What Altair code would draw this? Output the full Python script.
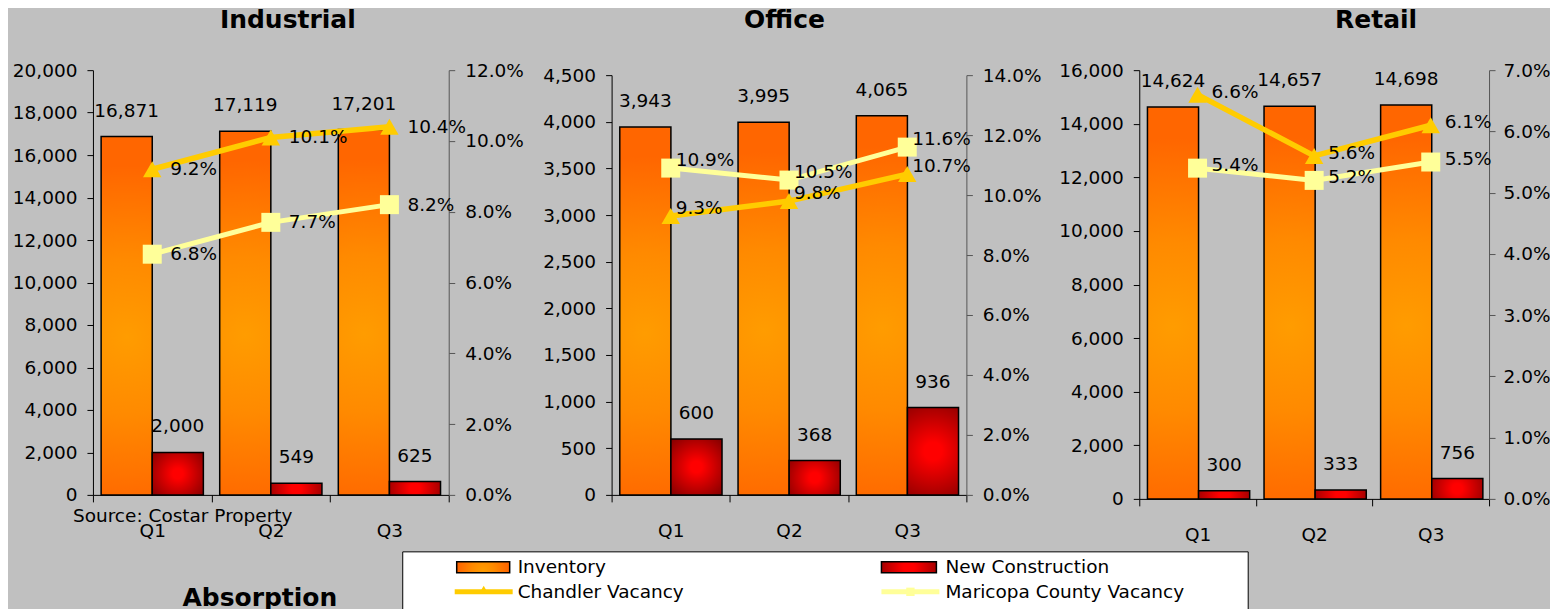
import altair as alt
import pandas as pd

# ---------------- data ----------------
quarters = ["Q1", "Q2", "Q3"]
panels = ["Industrial", "Office", "Retail"]
bar_series = ["Inventory", "New Construction"]
line_series = ["Chandler Vacancy", "Maricopa County Vacancy"]

industrial_inventory = [16871, 17119, 17201]
industrial_new_construction = [2000, 549, 625]
industrial_chandler_vacancy = [0.092, 0.101, 0.104]
industrial_maricopa_vacancy = [0.068, 0.077, 0.082]

office_inventory = [3943, 3995, 4065]
office_new_construction = [600, 368, 936]
office_chandler_vacancy = [0.093, 0.098, 0.107]
office_maricopa_vacancy = [0.109, 0.105, 0.116]

retail_inventory = [14624, 14657, 14698]
retail_new_construction = [300, 333, 756]
retail_chandler_vacancy = [0.066, 0.056, 0.061]
retail_maricopa_vacancy = [0.054, 0.052, 0.055]

industrial_left_ticks = [0, 2000, 4000, 6000, 8000, 10000, 12000, 14000, 16000, 18000, 20000]
industrial_right_ticks = [0, 0.02, 0.04, 0.06, 0.08, 0.10, 0.12]
office_left_ticks = [0, 500, 1000, 1500, 2000, 2500, 3000, 3500, 4000, 4500]
office_right_ticks = [0, 0.02, 0.04, 0.06, 0.08, 0.10, 0.12, 0.14]
retail_left_ticks = [0, 2000, 4000, 6000, 8000, 10000, 12000, 14000, 16000]
retail_right_ticks = [0, 0.01, 0.02, 0.03, 0.04, 0.05, 0.06, 0.07]

source_note = "Source: Costar Property"
section_title = "Absorption"

# ---------------- styles ----------------
FONT = "DejaVu Sans"
FS = 18.5
BG = "#c0c0c0"
CHANDLER = "#ffcc00"
MARICOPA = "#ffff99"

inv_fill = alt.RadialGradient(
    gradient="radial",
    stops=[alt.GradientStop(color="#ff9c00", offset=0),
           alt.GradientStop(color="#ff8a00", offset=0.45),
           alt.GradientStop(color="#ff6600", offset=1)],
    x1=0.5, y1=0.56, x2=0.5, y2=0.56, r1=0, r2=0.48,
)
nc_fill = alt.RadialGradient(
    gradient="radial",
    stops=[alt.GradientStop(color="#ff0000", offset=0),
           alt.GradientStop(color="#ff0000", offset=0.15),
           alt.GradientStop(color="#800000", offset=1)],
    x1=0.5, y1=0.5, x2=0.5, y2=0.5, r1=0, r2=0.68,
)

one = pd.DataFrame({"k": [0]})


def text_layer(txt, x, y, size=FS, weight="normal", align="left", baseline="middle"):
    return alt.Chart(pd.DataFrame({"t": [txt]})).mark_text(
        font=FONT, fontSize=size, fontWeight=weight, align=align,
        baseline=baseline, color="black"
    ).encode(text="t:N", x=alt.value(x), y=alt.value(y))


def legend_layers():
    layers = []
    layers.append(alt.Chart(one).mark_rect(fill="white", stroke="black", strokeWidth=1).encode(
        x=alt.value(310), x2=alt.value(1156), y=alt.value(482), y2=alt.value(545)))
    # bar swatches
    layers.append(alt.Chart(one).mark_rect(fill=inv_fill, stroke="black", strokeWidth=1.5).encode(
        x=alt.value(364), x2=alt.value(417), y=alt.value(492), y2=alt.value(503)))
    layers.append(alt.Chart(one).mark_rect(fill=nc_fill, stroke="black", strokeWidth=1.5).encode(
        x=alt.value(789), x2=alt.value(844), y=alt.value(492), y2=alt.value(503)))
    # line swatches
    layers.append(alt.Chart(one).mark_rule(color=CHANDLER, strokeWidth=5).encode(
        x=alt.value(362), x2=alt.value(420), y=alt.value(522)))
    layers.append(alt.Chart(one).mark_point(shape="triangle-up", filled=True, size=90,
                                            color=CHANDLER, opacity=1).encode(
        x=alt.value(391), y=alt.value(520)))
    layers.append(alt.Chart(one).mark_rule(color=MARICOPA, strokeWidth=5).encode(
        x=alt.value(789), x2=alt.value(847), y=alt.value(522)))
    layers.append(alt.Chart(one).mark_point(shape="square", filled=True, size=70,
                                            color=MARICOPA, opacity=1).encode(
        x=alt.value(818), y=alt.value(522)))
    layers.append(text_layer(bar_series[0], 425, 497))
    layers.append(text_layer(bar_series[1], 853, 497))
    layers.append(text_layer(line_series[0], 425, 522))
    layers.append(text_layer(line_series[1], 853, 522))
    return layers


def make_panel(name, inv, nc, chv, mcv, left_ticks, right_ticks, width, height,
               title_x, label_dx, label_dy, x_range=None, y_range=None,
               right_offset=0, right_pad=10, extra=()):
    bars = pd.DataFrame({"quarter": quarters + quarters,
                         "series": [bar_series[0]] * 3 + [bar_series[1]] * 3,
                         "value": inv + nc})
    inv_df = bars[bars["series"] == bar_series[0]]
    nc_df = bars[bars["series"] == bar_series[1]]
    ch = pd.DataFrame({"quarter": quarters, "series": line_series[0], "rate": chv})
    mc = pd.DataFrame({"quarter": quarters, "series": line_series[1], "rate": mcv})

    xs = dict(domain=quarters, paddingInner=0, paddingOuter=0)
    if x_range is not None:
        xs["range"] = x_range
    x = alt.X("quarter:N", sort=quarters, scale=alt.Scale(**xs),
              axis=alt.Axis(title=None, labelAngle=0, tickBand="extent", tickSize=7,
                            labelPadding=20, domainColor="black", tickColor="black",
                            domainWidth=1, labelFont=FONT, labelFontSize=FS,
                            labelColor="black"))
    xo = alt.XOffset("series:N", sort=bar_series,
                     scale=alt.Scale(domain=bar_series, paddingInner=0, paddingOuter=0.16))

    ls = dict(domain=[0, left_ticks[-1]], nice=False, zero=True)
    rs = dict(domain=[0, right_ticks[-1]], nice=False, zero=True)
    if y_range is not None:
        ls["range"] = y_range
        rs["range"] = y_range
    laxis = alt.Axis(orient="left", values=left_ticks, format=",.0f", title=None,
                     tickSize=6, labelPadding=10, minExtent=85, maxExtent=85,
                     domainColor="black", tickColor="black", grid=False,
                     labelFont=FONT, labelFontSize=FS, labelColor="black")
    raxis = alt.Axis(orient="right", values=right_ticks, format=".1%", title=None,
                     tickSize=6, labelPadding=right_pad, minExtent=60, maxExtent=60,
                     offset=right_offset, domainColor="#555555", tickColor="#555555",
                     grid=False, labelFont=FONT, labelFontSize=FS, labelColor="black")
    yl = alt.Y("value:Q", scale=alt.Scale(**ls), axis=laxis)
    yr = alt.Y("rate:Q", scale=alt.Scale(**rs), axis=raxis)

    inv_bars = alt.Chart(inv_df).mark_bar(fill=inv_fill, stroke="black", strokeWidth=1.5).encode(
        x=x, xOffset=xo, y=yl)
    nc_bars = alt.Chart(nc_df).mark_bar(fill=nc_fill, stroke="black", strokeWidth=1.5).encode(
        x=x, xOffset=xo, y=yl)
    bar_labels = alt.Chart(bars).mark_text(font=FONT, fontSize=FS, color="black",
                                           baseline="middle", dy=-26).encode(
        x=x, xOffset=xo, y=yl, text=alt.Text("value:Q", format=",.0f"))
    left = alt.layer(inv_bars, nc_bars, bar_labels)

    ch_line = alt.Chart(ch).mark_line(color=CHANDLER, strokeWidth=5.5).encode(x=x, y=yr)
    ch_pts = alt.Chart(ch).mark_point(shape="triangle-up", filled=True, size=340,
                                      color=CHANDLER, opacity=1).encode(x=x, y=yr)
    mc_line = alt.Chart(mc).mark_line(color=MARICOPA, strokeWidth=5).encode(x=x, y=yr)
    mc_pts = alt.Chart(mc).mark_point(shape="square", filled=True, size=361,
                                      color=MARICOPA, opacity=1).encode(x=x, y=yr)
    lab_kw = dict(font=FONT, fontSize=FS, color="black", align="left",
                  baseline="middle", dx=label_dx, dy=label_dy)
    ch_lab = alt.Chart(ch).mark_text(**lab_kw).encode(
        x=x, y=yr, text=alt.Text("rate:Q", format=".1%"))
    mc_lab = alt.Chart(mc).mark_text(**lab_kw).encode(
        x=x, y=yr, text=alt.Text("rate:Q", format=".1%"))
    right = alt.layer(ch_line, mc_line, ch_pts, mc_pts, ch_lab, mc_lab)

    title = text_layer(name, title_x, -42, size=25, weight="bold", align="center",
                       baseline="alphabetic")
    return alt.layer(left, right, title, *extra).resolve_scale(y="independent").properties(
        width=width, height=height)


industrial = make_panel(
    panels[0], industrial_inventory, industrial_new_construction,
    industrial_chandler_vacancy, industrial_maricopa_vacancy,
    industrial_left_ticks, industrial_right_ticks, 356, 425,
    title_x=195, label_dx=18, label_dy=0,
    extra=[text_layer(source_note, -20, 446),
           text_layer(section_title, 167, 536, size=25, weight="bold", align="center",
                      baseline="alphabetic")] + legend_layers())

office = make_panel(
    panels[1], office_inventory, office_new_construction,
    office_chandler_vacancy, office_maricopa_vacancy,
    office_left_ticks, office_right_ticks, 365, 425,
    title_x=173, label_dx=5, label_dy=-8,
    x_range=[0, 355], y_range=[425, 5], right_offset=-10)

retail = make_panel(
    panels[2], retail_inventory, retail_new_construction,
    retail_chandler_vacancy, retail_maricopa_vacancy,
    retail_left_ticks, retail_right_ticks, 350, 429,
    title_x=237, label_dx=14, label_dy=-3, right_pad=8)

chart = alt.hconcat(industrial, office, retail, spacing=163, bounds="flush").properties(
    background=BG, padding={"left": 0, "top": 0, "right": 0, "bottom": 0}
).configure_view(stroke=None).configure_axis(grid=False)

chart.save("out.html", embed_options={"renderer": "svg", "actions": False})
